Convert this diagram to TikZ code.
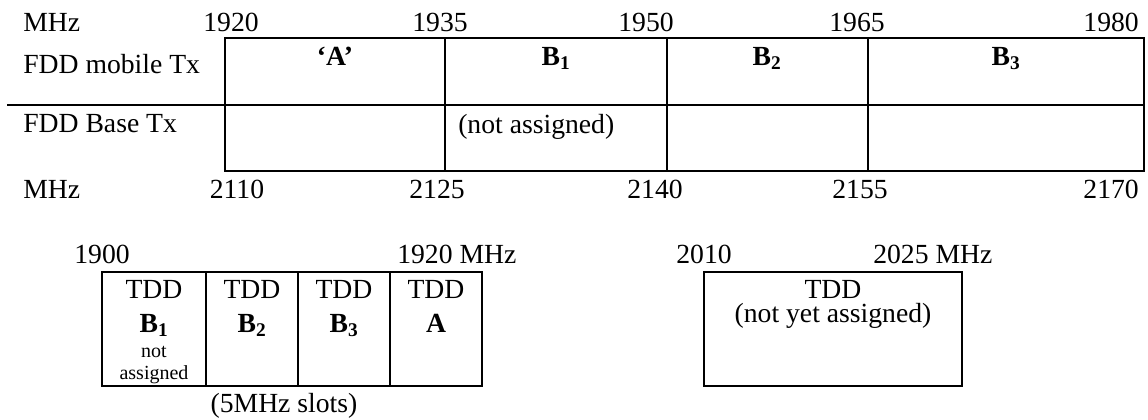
\documentclass[tikz,border=0pt]{standalone}
\usepackage{fontspec}
\setmainfont{Liberation Serif}
\tikzset{
  txt/.style={inner sep=0pt, font=\fontsize{20.75}{18}\selectfont},
  smalltxt/.style={inner sep=0pt, font=\fontsize{15}{16.5}\selectfont},
  rule/.style={line width=1.9pt, line cap=rect},
}
\begin{document}
\begin{tikzpicture}[x=0.75pt,y=-0.75pt]
\useasboundingbox (0,0) rectangle (1148,419);
% ---------- FDD table ----------
\draw[rule] (225,38) rectangle (1144,171);
\draw[rule] (8,105) -- (1144,105);
\foreach \xx in {445,667,868} \draw[rule] (\xx,38) -- (\xx,171);
% top frequency labels
\node[txt, anchor=base west] (mhzt) at (23,31) {MHz};
\node[txt, anchor=base] (f1920) at (231,31) {1920};
\node[txt, anchor=base] (f1935) at (440,31) {1935};
\node[txt, anchor=base] (f1950) at (646,31) {1950};
\node[txt, anchor=base] (f1965) at (857,31) {1965};
\node[txt, anchor=base east] (f1980) at (1139,31) {1980};
% row labels
\node[txt, anchor=base west] (mob) at (23,73) {FDD mobile Tx};
\node[txt, anchor=base west] (base) at (23,132) {FDD Base Tx};
% cell texts
\node[txt, anchor=base] (cA) at (335,65) {\textbf{‘A’}};
\node[txt, anchor=base] (cB1) at (556,65) {\textbf{B\textsubscript{1}}};
\node[txt, anchor=base] (cB2) at (767,65) {\textbf{B\textsubscript{2}}};
\node[txt, anchor=base] (cB3) at (1006,65) {\textbf{B\textsubscript{3}}};
\node[txt, anchor=base west] (na) at (458,133) {(not assigned)};
% bottom frequency labels
\node[txt, anchor=base west] (mhzb) at (23,198) {MHz};
\node[txt, anchor=base] (f2110) at (237,198) {2110};
\node[txt, anchor=base] (f2125) at (437,198) {2125};
\node[txt, anchor=base] (f2140) at (655,198) {2140};
\node[txt, anchor=base] (f2155) at (860,198) {2155};
\node[txt, anchor=base east] (f2170) at (1139,198) {2170};
% ---------- TDD 1900-1920 ----------
\draw[rule] (102,272) rectangle (482,386);
\foreach \xx in {206,298,390} \draw[rule] (\xx,272) -- (\xx,386);
\node[txt, anchor=base] (f1900) at (102,263) {1900};
\node[txt, anchor=base west] (f1920b) at (397,263) {1920 MHz};
\node[txt, anchor=base] (t1) at (154,298) {TDD};
\node[txt, anchor=base] (t2) at (252,298) {TDD};
\node[txt, anchor=base] (t3) at (344,298) {TDD};
\node[txt, anchor=base] (t4) at (436,298) {TDD};
\node[txt, anchor=base] (tb1) at (154,332) {\textbf{B\textsubscript{1}}};
\node[txt, anchor=base] (tb2) at (252,332) {\textbf{B\textsubscript{2}}};
\node[txt, anchor=base] (tb3) at (344,332) {\textbf{B\textsubscript{3}}};
\node[txt, anchor=base] (tba) at (436,332) {\textbf{A}};
\node[smalltxt, anchor=base, align=center] (nt) at (154,379) {not\\assigned};
\node[txt, anchor=base] (slots) at (284,412) {(5MHz slots)};
% ---------- TDD 2010-2025 ----------
\draw[rule] (704,272) rectangle (962,386);
\node[txt, anchor=base] (f2010) at (704,263) {2010};
\node[txt, anchor=base west] (f2025) at (873,263) {2025 MHz};
\node[txt, anchor=base, align=center] (tr) at (833,322) {TDD\\(not yet assigned)};
\end{tikzpicture}
\end{document}
